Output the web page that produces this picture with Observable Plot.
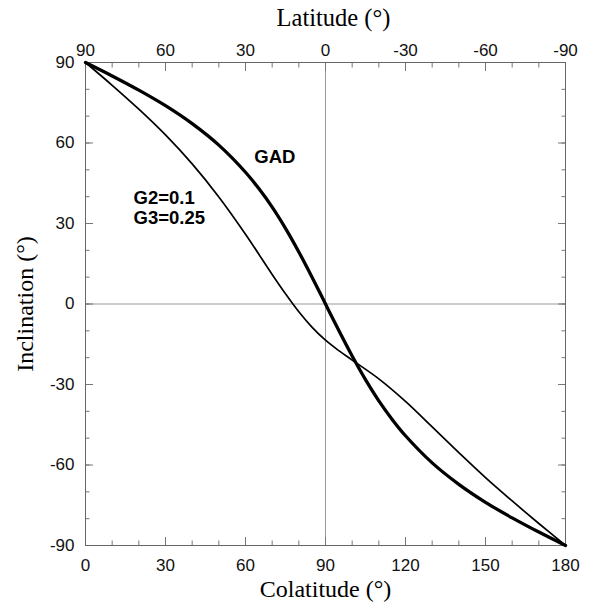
<!DOCTYPE html>
<html><head><meta charset="utf-8">
<script src="https://cdn.jsdelivr.net/npm/d3@7"></script>
<script src="https://cdn.jsdelivr.net/npm/@observablehq/plot@0.6"></script>
<style>body{margin:0;background:#fff}</style>
</head><body><div id="chart"></div>
<script>
const colatitude = [0,10,20,30,40,50,60,65,70,75,80,85,90,95,100,105,110,115,120,130,140,150,160,170,180];
const gadInclination = [90,85.0,79.7,73.9,67.2,59.2,49.1,43.0,36.1,28.2,19.4,9.9,0,-9.9,-19.4,-28.2,-36.1,-43.0,-49.1,-59.2,-67.2,-73.9,-79.7,-85.0,-90];
const colat2 = [0,10,20,30,40,50,60,70,75,80,85,90,95,100,110,120,130,140,150,160,170,180];
const g23Inclination = [90,81.5,72.6,63.0,52.2,39.9,26.0,11.0,3.8,-2.9,-8.7,-13.5,-17.4,-20.9,-27.9,-36.3,-45.8,-55.4,-64.7,-73.4,-81.8,-90];
const xMajorTicks = [0,30,60,90,120,150,180];
const xMinorTicks = d3.range(0,181,10);
const yMajorTicks = [-90,-60,-30,0,30,60,90];
const yMinorTicks = d3.range(-90,91,10);
const gadLabel = [{text:"GAD", x:71, y:54.6}];
const modelLabels = [
  {text:"G2=0.1", x:18, y:39.3},
  {text:"G3=0.25", x:18, y:32.2}
];
const titles = {top:"Latitude (°)", bottom:"Colatitude (°)", left:"Inclination (°)"};

const gad = colatitude.map((c,i)=>({c, inc: gadInclination[i]}));
const g23 = colat2.map((c,i)=>({c, inc: g23Inclination[i]}));

const sans = "Liberation Sans, Arial, sans-serif";
const serif = "Liberation Serif, Times New Roman, serif";
const tickFont = {fontSize:17, fontFamily:sans};
const tickStroke = "#777";

const chart = Plot.plot({
  width:594, height:604,
  marginLeft:85, marginRight:29, marginTop:62, marginBottom:59,
  style:{fontFamily:sans, color:"#111", background:"#fff"},
  x:{domain:[0,180]},
  y:{domain:[-90,90]},
  marks:[
    Plot.ruleX([90], {stroke:"#999", strokeWidth:1}),
    Plot.ruleY([0], {stroke:"#999", strokeWidth:1}),
    Plot.axisX(xMinorTicks, {anchor:"bottom", tickSize:-4.5, tickFormat:()=>"", label:null, stroke:tickStroke}),
    Plot.axisX(xMajorTicks, {anchor:"bottom", tickSize:-8, tickPadding:21, tickFormat:d=>String(d), label:null, stroke:tickStroke, ...tickFont, fill:"#111"}),
    Plot.axisX(xMinorTicks, {anchor:"top", tickSize:-4.5, tickFormat:()=>"", label:null, stroke:tickStroke}),
    Plot.axisX(xMajorTicks, {anchor:"top", tickSize:-8, tickPadding:15, tickFormat:d=>String(90-d), label:null, stroke:tickStroke, ...tickFont, fill:"#111"}),
    Plot.axisY(yMinorTicks, {anchor:"left", tickSize:-4.5, tickFormat:()=>"", label:null, stroke:tickStroke}),
    Plot.axisY(yMajorTicks, {anchor:"left", tickSize:-8, tickPadding:19, tickFormat:d=>String(d), label:null, stroke:tickStroke, ...tickFont, fill:"#111"}),
    Plot.axisY(yMinorTicks, {anchor:"right", tickSize:-4.5, tickFormat:()=>"", label:null, stroke:tickStroke}),
    Plot.axisY(yMajorTicks, {anchor:"right", tickSize:-8, tickFormat:()=>"", label:null, stroke:tickStroke}),
    Plot.frame({stroke:"#666", strokeWidth:1}),
    Plot.line(g23, {x:"c", y:"inc", stroke:"#000", strokeWidth:1.7, curve:"catmull-rom"}),
    Plot.line(gad, {x:"c", y:"inc", stroke:"#000", strokeWidth:3.3, curve:"catmull-rom"}),
    Plot.text(gadLabel, {x:"x", y:"y", text:"text", textAnchor:"middle", fontSize:18.5, fontWeight:"bold", fontFamily:sans, fill:"#000"}),
    Plot.text(modelLabels, {x:"x", y:"y", text:"text", textAnchor:"start", fontSize:18.5, fontWeight:"bold", fontFamily:sans, fill:"#000"}),
    Plot.text([titles.top], {frameAnchor:"top", lineAnchor:"middle", textAnchor:"middle", dy:-44, dx:8, fontSize:24.5, fontFamily:serif, fill:"#000"}),
    Plot.text([titles.bottom], {frameAnchor:"bottom", lineAnchor:"middle", textAnchor:"middle", dy:44, fontSize:24, fontFamily:serif, fill:"#000"}),
    Plot.text([titles.left], {frameAnchor:"left", lineAnchor:"middle", textAnchor:"middle", dx:-60, rotate:-90, fontSize:24, fontFamily:serif, fill:"#000"})
  ]
});
document.getElementById("chart").append(chart);
</script>
</body></html>
